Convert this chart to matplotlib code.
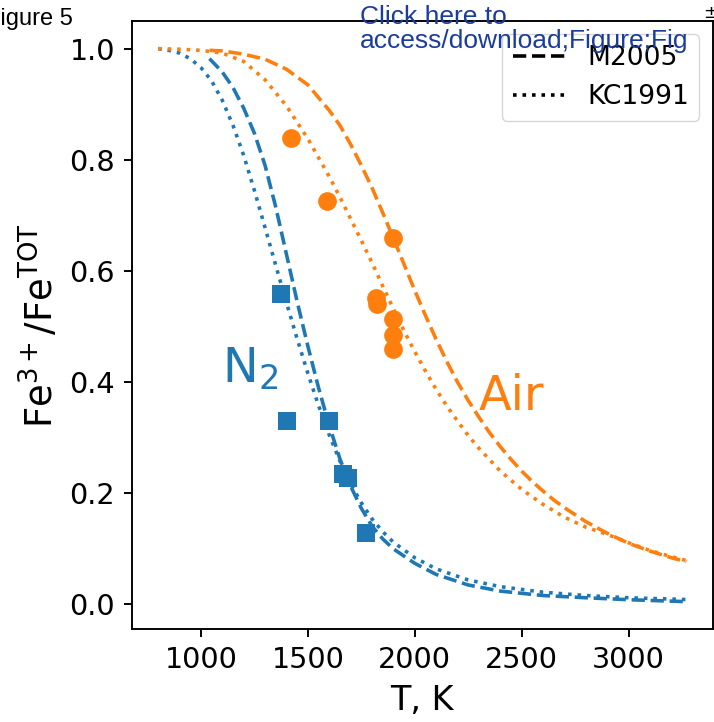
import matplotlib.pyplot as plt

# M2005 model, N2 (dashed blue)
n2_m05_T = [1040, 1100, 1150, 1200, 1250, 1300, 1350, 1400, 1450, 1500, 1550,
            1600, 1650, 1700, 1750, 1800, 1850, 1900, 2000, 2100, 2250, 2400,
            2600, 2800, 3000, 3270]
n2_m05 = [0.982, 0.958, 0.93, 0.893, 0.848, 0.79, 0.715, 0.63, 0.545, 0.465,
          0.39, 0.322, 0.262, 0.213, 0.173, 0.141, 0.118, 0.1, 0.074, 0.054,
          0.035, 0.024, 0.016, 0.012, 0.0085, 0.005]

# KC1991 model, N2 (dotted blue)
n2_kc_T = [800, 850, 900, 950, 1000, 1050, 1100, 1150, 1200, 1250, 1300, 1350,
           1400, 1450, 1500, 1550, 1600, 1650, 1700, 1750, 1800, 1850, 1900,
           2000, 2100, 2250, 2400, 2600, 2800, 3000, 3270]
n2_kc = [1.0, 0.997, 0.992, 0.982, 0.966, 0.942, 0.907, 0.862, 0.808, 0.745,
         0.678, 0.61, 0.543, 0.478, 0.416, 0.358, 0.305, 0.258, 0.217, 0.183,
         0.154, 0.131, 0.112, 0.084, 0.064, 0.044, 0.032, 0.022, 0.016, 0.012,
         0.0088]

# M2005 model, air (dashed orange)
air_m05_T = [1040, 1100, 1200, 1300, 1400, 1500, 1600, 1650, 1700, 1750, 1800,
             1850, 1900, 1950, 2000, 2050, 2100, 2150, 2200, 2250, 2300, 2350,
             2400, 2450, 2500, 2550, 2600, 2650, 2700, 2800, 2900, 3000, 3100,
             3200, 3270]
air_m05 = [0.997, 0.996, 0.99, 0.981, 0.963, 0.935, 0.889, 0.862, 0.828, 0.79,
           0.75, 0.705, 0.659, 0.612, 0.565, 0.52, 0.477, 0.437, 0.40, 0.367,
           0.337, 0.309, 0.284, 0.261, 0.24, 0.221, 0.204, 0.188, 0.174,
           0.149, 0.128, 0.11, 0.096, 0.084, 0.077]

# KC1991 model, air (dotted orange)
air_kc_T = [800, 900, 1000, 1100, 1200, 1300, 1400, 1500, 1600, 1650, 1700,
            1750, 1800, 1850, 1900, 1950, 2000, 2050, 2100, 2150, 2200, 2250,
            2300, 2400, 2500, 2600, 2700, 2800, 2900, 3000, 3100, 3200, 3270]
air_kc = [1.0, 0.999, 0.997, 0.992, 0.977, 0.944, 0.897, 0.838, 0.77, 0.733,
          0.694, 0.655, 0.615, 0.573, 0.532, 0.492, 0.455, 0.42, 0.387, 0.357,
          0.33, 0.304, 0.281, 0.24, 0.207, 0.18, 0.157, 0.139, 0.126, 0.111,
          0.097, 0.086, 0.079]

# measurements
n2_T = [1375, 1401, 1601, 1665, 1690, 1773]
n2_ratio = [0.559, 0.330, 0.330, 0.235, 0.228, 0.129]
air_T = [1423, 1588, 1900, 1820, 1825, 1900, 1900, 1900]
air_ratio = [0.840, 0.725, 0.659, 0.551, 0.541, 0.513, 0.484, 0.460]

K = 1.72  # everything looks scaled up from matplotlib defaults
blue = "#1f77b4"
orange = "#ff7f0e"

plt.rcParams["axes.linewidth"] = 0.8 * K
plt.rcParams["xtick.major.size"] = 3.5 * K
plt.rcParams["ytick.major.size"] = 3.5 * K
plt.rcParams["xtick.major.width"] = 0.8 * K
plt.rcParams["ytick.major.width"] = 0.8 * K
plt.rcParams["xtick.major.pad"] = 3.5 * K
plt.rcParams["ytick.major.pad"] = 3.5 * K

fig = plt.figure(figsize=(7.14, 7.22), dpi=100)
ax = fig.add_axes([0.1845, 0.1284, 0.8137, 0.8425])

lw = 1.5 * K
ax.plot(n2_m05_T, n2_m05, "--", color=blue, lw=lw)
ax.plot(n2_kc_T, n2_kc, ":", color=blue, lw=lw)
ax.plot(air_m05_T, air_m05, "--", color=orange, lw=lw)
ax.plot(air_kc_T, air_kc, ":", color=orange, lw=lw)

ax.plot(n2_T, n2_ratio, "s", color=blue, ms=13.5, mew=0)
ax.plot(air_T, air_ratio, "o", color=orange, ms=13.5, mew=0)

ax.text(1100, 0.4, "N$_2$", color=blue, fontsize=20 * K)
ax.text(2300, 0.35, "Air", color=orange, fontsize=20 * K)

# legend only shows line styles
ax.plot([], [], "--", color="black", lw=lw, label="M2005")
ax.plot([], [], ":", color="black", lw=lw, label="KC1991")
ax.legend(loc="upper right", fontsize=11.1 * K)

ax.set_xticks([1000, 1500, 2000, 2500, 3000])
ax.set_yticks([0.0, 0.2, 0.4, 0.6, 0.8, 1.0])
ax.tick_params(labelsize=12 * K)
ax.set_xlabel("T, K", fontsize=14 * K, labelpad=4 * K)
ax.set_ylabel("Fe$^{3+}$/Fe$^{\\mathrm{TOT}}$", fontsize=15.5 * K, labelpad=3 * K)

# page overlays from the submission pdf
fig.text(-0.019, 0.966, "Figure 5", fontsize=17, family="Liberation Sans", va="baseline")
link = "#1a3c9c"
fig.text(0.504, 0.967, "Click here to", fontsize=19, color=link,
         family="Liberation Sans", va="baseline")
fig.text(0.504, 0.934, "access/download;Figure;Fig", fontsize=19, color=link,
         family="Liberation Sans", va="baseline")
fig.text(0.985, 0.982, "\u00b1", fontsize=13, va="center")

fig.savefig("out.png", dpi=100)
